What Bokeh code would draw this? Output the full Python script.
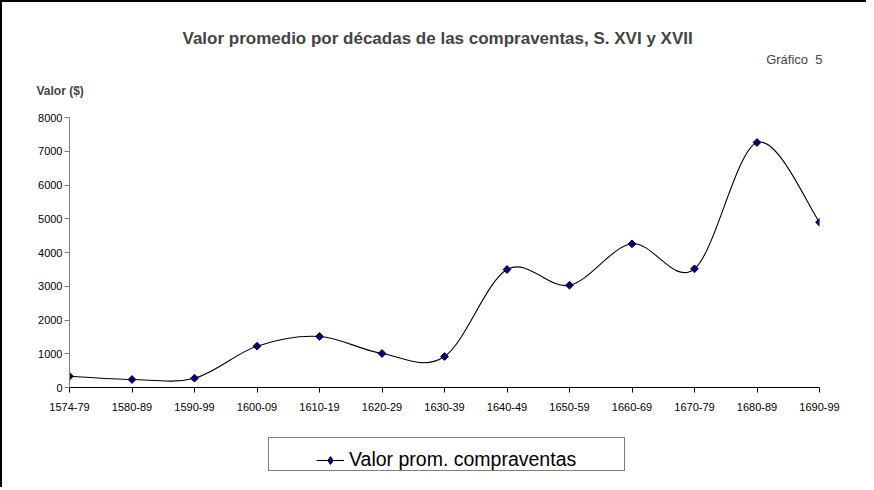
import math
from bokeh.plotting import figure
from bokeh.layouts import column
from bokeh.models import (Range1d, FixedTicker, Title, Legend, LegendItem, ColumnDataSource)
from bokeh.embed import file_html
from bokeh.resources import INLINE

decades = ["1574-79", "1580-89", "1590-99", "1600-09", "1610-19", "1620-29", "1630-39",
           "1640-49", "1650-59", "1660-69", "1670-79", "1680-89", "1690-99"]
valores = [335, 237, 276, 1224, 1511, 1007, 918, 3496, 3031, 4257, 3516, 7259, 4898]
y_ticks = [0, 1000, 2000, 3000, 4000, 5000, 6000, 7000, 8000]

title_text = "Valor promedio por décadas de las compraventas, S. XVI y XVII"
chart_no = "Gráfico\u00a0\u00a05"
y_title = "Valor ($)"
series_name = "Valor prom. compraventas"

FONT = "Liberation Sans"

fig = figure(frame_width=750, frame_height=270, output_backend="svg", toolbar_location=None,
             x_range=Range1d(0, len(decades) - 1), y_range=Range1d(0, 8000),
             min_border_left=67, min_border_right=47, min_border_top=115, min_border_bottom=30)
fig.outline_line_color = None
fig.xgrid.visible = False
fig.ygrid.visible = False

# smoothed line (Catmull-Rom style bezier like Excel smoothing)
xs = list(range(len(valores)))
n = len(valores)
x0, y0, x1, y1, cx0, cy0, cx1, cy1 = [], [], [], [], [], [], [], []
for i in range(n - 1):
    pm = i - 1 if i > 0 else 0
    pp = i + 2 if i + 2 < n else n - 1
    x0.append(xs[i]); y0.append(valores[i])
    x1.append(xs[i + 1]); y1.append(valores[i + 1])
    cx0.append(xs[i] + (xs[i + 1] - xs[pm]) / 6.0)
    cy0.append(valores[i] + (valores[i + 1] - valores[pm]) / 6.0)
    cx1.append(xs[i + 1] - (xs[pp] - xs[i]) / 6.0)
    cy1.append(valores[i + 1] - (valores[pp] - valores[i]) / 6.0)
bz = ColumnDataSource(dict(x0=x0, y0=y0, x1=x1, y1=y1, cx0=cx0, cy0=cy0, cx1=cx1, cy1=cy1))
fig.bezier(x0="x0", y0="y0", x1="x1", y1="y1", cx0="cx0", cy0="cy0", cx1="cx1", cy1="cy1",
           source=bz, line_color="black", line_width=1.1)
fig.scatter(xs, valores, marker="square", angle=math.pi / 4, size=5.5,
            fill_color="#000080", line_color="#000033", line_width=1)

# axes
fig.xaxis.ticker = FixedTicker(ticks=xs)
fig.xaxis.major_label_overrides = {i: d for i, d in enumerate(decades)}
fig.xaxis.axis_line_color = "black"
fig.xaxis.major_tick_line_color = "black"
fig.xaxis.major_tick_out = 5
fig.xaxis.major_tick_in = 0
fig.xaxis.minor_tick_line_color = None
fig.xaxis.major_label_text_font = FONT
fig.xaxis.major_label_text_font_size = "11px"
fig.xaxis.major_label_text_color = "black"
fig.xaxis.major_label_standoff = 10

fig.yaxis.ticker = FixedTicker(ticks=y_ticks)
fig.yaxis.axis_line_color = "#808080"
fig.yaxis.major_tick_line_color = "#808080"
fig.yaxis.major_tick_out = 5
fig.yaxis.major_tick_in = 0
fig.yaxis.minor_tick_line_color = None
fig.yaxis.major_label_text_font = FONT
fig.yaxis.major_label_text_font_size = "11px"
fig.yaxis.major_label_text_color = "black"
fig.yaxis.major_label_standoff = 2

# titles (first added is nearest the frame)
fig.add_layout(Title(text=y_title, text_font=FONT, text_font_size="12px", text_font_style="bold",
                     align="left", offset=-33, standoff=35, vertical_align="top"), "above")
fig.add_layout(Title(text=chart_no, text_font=FONT, text_font_size="13px", text_font_style="normal",
                     align="right", offset=-3, standoff=0, vertical_align="bottom"), "above")
fig.add_layout(Title(text=title_text, text_font=FONT, text_font_size="17px", text_font_style="bold",
                     align="left", offset=113, standoff=4, vertical_align="bottom"), "above")

# legend strip below the chart (its frame is aligned with the chart's frame)
leg = figure(width=864, height=70, output_backend="svg", toolbar_location=None,
             x_range=Range1d(0, 1), y_range=Range1d(-2, -1),
             x_axis_type=None, y_axis_type=None,
             min_border_left=0, min_border_right=0, min_border_top=0, min_border_bottom=0)
leg.outline_line_color = None
leg.xgrid.visible = False
leg.ygrid.visible = False
box_r = leg.line(xs, valores, line_alpha=0)
l_line = leg.line(xs, valores, line_color="black", line_width=1.1)
l_pts = leg.scatter(xs, valores, marker="diamond", size=8,
                    fill_color="#000080", line_color="#000033", line_width=1)

box = Legend(items=[LegendItem(label=" ", renderers=[box_r])],
             location=(199, 16), label_text_font=FONT, label_text_font_size="19.5px",
             label_width=310, glyph_width=28, padding=6, margin=0, spacing=0,
             border_line_color="black", border_line_width=1, background_fill_color="white")
real = Legend(items=[LegendItem(label=series_name, renderers=[l_line, l_pts])],
              location=(247, 16), label_text_font=FONT, label_text_font_size="19.5px",
              label_text_color="black",
              glyph_width=28, padding=6, margin=0, spacing=0,
              border_line_color=None, background_fill_alpha=0)
leg.add_layout(box, "center")
leg.add_layout(real, "center")

p = column(fig, leg, spacing=0,
           styles={"border-left": "2px solid #000", "border-top": "2px solid #000"})

open("out.html", "w").write(file_html(p, INLINE))
